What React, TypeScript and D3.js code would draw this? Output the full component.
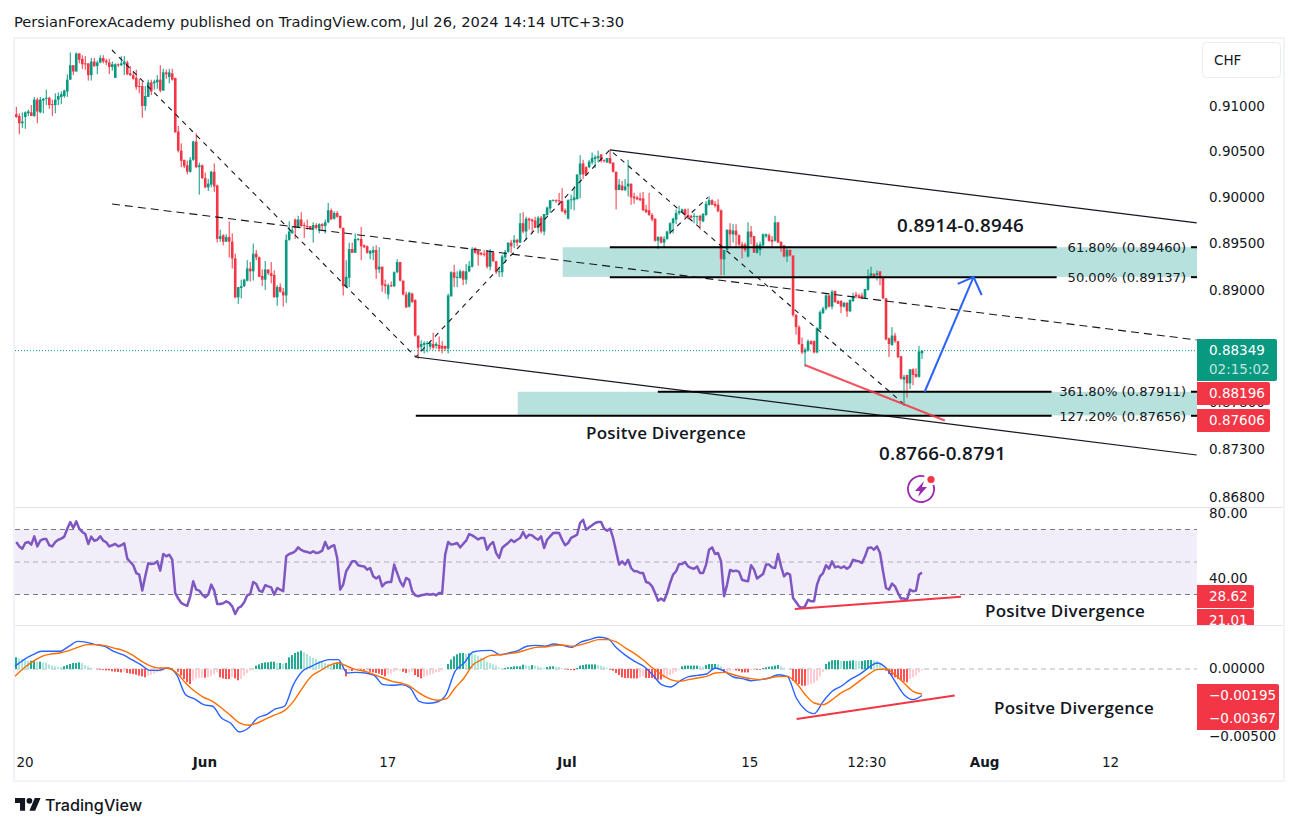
import React from 'react';
import * as d3 from 'd3';

// USDCHF 4h candles, ten per line
const opens = [
  .9091, .9089, .9081, .9088, .9092, .9093, .9089, .9107, .9093, .9106,
  .9108, .9109, .9102, .9101, .9107, .9110, .9111, .9116, .9129, .9145,
  .9138, .9158, .9152, .9147, .9147, .9134, .9149, .9144, .9148, .9153,
  .9150, .9148, .9143, .9131, .9146, .9145, .9146, .9148, .9136, .9134,
  .9131, .9122, .9122, .9100, .9110, .9126, .9125, .9126, .9129, .9117,
  .9137, .9132, .9136, .9131, .9072, .9051, .9041, .9035, .9028, .9041,
  .9061, .9033, .9035, .9021, .9011, .9014, .9028, .9013, .8955, .8959,
  .8952, .8957, .8952, .8934, .8892, .8902, .8904, .8910, .8923, .8920,
  .8939, .8935, .8915, .8911, .8922, .8918, .8916, .8892, .8903, .8898,
  .8894, .8954, .8961, .8976, .8967, .8976, .8970, .8969, .8969, .8966,
  .8970, .8966, .8971, .8969, .8973, .8986, .8977, .8983, .8980, .8967,
  .8903, .8913, .8944, .8940, .8954, .8955, .8948, .8947, .8939, .8940,
  .8943, .8922, .8925, .8906, .8895, .8905, .8904, .8919, .8930, .8910,
  .8895, .8882, .8896, .8889, .8851, .8839, .8841, .8842, .8839, .8842,
  .8840, .8841, .8840, .8840, .8837, .8893, .8919, .8913, .8913, .8920,
  .8911, .8920, .8925, .8945, .8942, .8940, .8939, .8941, .8925, .8940,
  .8931, .8919, .8919, .8935, .8941, .8951, .8951, .8954, .8951, .8972,
  .8963, .8977, .8976, .8975, .8967, .8978, .8963, .8981, .8988, .8996,
  .8997, .8997, .8996, .8986, .8977, .8997, .8997, .8998, .9025, .9037,
  .9033, .9033, .9038, .9042, .9043, .9047, .9041, .9038, .9043, .9038,
  .9028, .9008, .9013, .9008, .9012, .9015, .9001, .9000, .8999, .8999,
  .8987, .8986, .8981, .8977, .8953, .8957, .8951, .8955, .8963, .8972,
  .8976, .8983, .8983, .8987, .8981, .8980, .8979, .8979, .8980, .8974,
  .8981, .8992, .8997, .8993, .8992, .8986, .8933, .8943, .8965, .8960,
  .8964, .8959, .8949, .8949, .8936, .8963, .8958, .8940, .8943, .8948,
  .8958, .8959, .8954, .8953, .8973, .8952, .8948, .8936, .8943, .8937,
  .8873, .8860, .8842, .8833, .8835, .8845, .8845, .8833, .8858, .8875,
  .8880, .8894, .8882, .8899, .8888, .8888, .8882, .8886, .8877, .8888,
  .8895, .8894, .8894, .8891, .8900, .8914, .8917, .8916, .8920, .8914,
  .8891, .8848, .8841, .8851, .8845, .8829, .8804, .8809, .8800, .8815,
  .8810, .8807, .8832,
];
const highs = [
  .9099, .9092, .9093, .9094, .9096, .9101, .9110, .9109, .9110, .9109,
  .9118, .9110, .9107, .9114, .9115, .9116, .9118, .9135, .9159, .9145,
  .9159, .9158, .9156, .9155, .9147, .9153, .9153, .9150, .9156, .9156,
  .9152, .9152, .9149, .9147, .9147, .9155, .9155, .9150, .9144, .9138,
  .9140, .9130, .9127, .9122, .9129, .9129, .9129, .9134, .9145, .9141,
  .9140, .9141, .9141, .9131, .9078, .9059, .9041, .9040, .9044, .9062,
  .9070, .9038, .9036, .9027, .9020, .9029, .9037, .9014, .8965, .8960,
  .8960, .8974, .8961, .8939, .8903, .8911, .8912, .8932, .8930, .8950,
  .8943, .8936, .8922, .8931, .8922, .8930, .8921, .8905, .8907, .8902,
  .8960, .8974, .8969, .8977, .8980, .8984, .8973, .8976, .8969, .8973,
  .8972, .8972, .8972, .8976, .8994, .8988, .8985, .8985, .8980, .8967,
  .8932, .8951, .8951, .8961, .8956, .8968, .8949, .8948, .8943, .8947,
  .8948, .8946, .8925, .8911, .8907, .8909, .8920, .8933, .8930, .8910,
  .8898, .8898, .8897, .8890, .8851, .8846, .8845, .8845, .8845, .8854,
  .8844, .8850, .8845, .8840, .8896, .8920, .8927, .8920, .8922, .8921,
  .8928, .8931, .8946, .8946, .8944, .8941, .8943, .8943, .8944, .8941,
  .8931, .8925, .8938, .8943, .8951, .8954, .8959, .8955, .8983, .8984,
  .8979, .8978, .8977, .8979, .8980, .8980, .8982, .8990, .8997, .8998,
  .8998, .9005, .9010, .8988, .8998, .9003, .9012, .9025, .9046, .9041,
  .9034, .9041, .9049, .9046, .9051, .9047, .9041, .9043, .9052, .9038,
  .9028, .9020, .9018, .9020, .9041, .9015, .9005, .9002, .9005, .9006,
  .8992, .9005, .8983, .8977, .8958, .8958, .8958, .8964, .8973, .8978,
  .8987, .8991, .8988, .8988, .8988, .8981, .8983, .8980, .8981, .8983,
  .8996, .9001, .8998, .8996, .8998, .8987, .8943, .8965, .8972, .8971,
  .8971, .8960, .8952, .8951, .8973, .8969, .8958, .8951, .8952, .8961,
  .8961, .8961, .8958, .8980, .8973, .8952, .8948, .8945, .8944, .8937,
  .8874, .8862, .8849, .8838, .8847, .8846, .8846, .8860, .8878, .8882,
  .8896, .8895, .8900, .8899, .8889, .8889, .8887, .8887, .8890, .8897,
  .8898, .8896, .8897, .8901, .8922, .8925, .8918, .8921, .8920, .8914,
  .8891, .8849, .8860, .8854, .8845, .8829, .8809, .8809, .8815, .8816,
  .8816, .8840, .8835,
];
const lows = [
  .9087, .9069, .9076, .9075, .9089, .9089, .9088, .9081, .9092, .9092,
  .9101, .9097, .9089, .9092, .9101, .9102, .9109, .9110, .9129, .9134,
  .9138, .9147, .9141, .9140, .9128, .9128, .9143, .9135, .9147, .9147,
  .9145, .9135, .9139, .9131, .9143, .9144, .9134, .9134, .9133, .9129,
  .9118, .9114, .9087, .9095, .9110, .9112, .9118, .9119, .9115, .9117,
  .9130, .9125, .9128, .9071, .9049, .9033, .9032, .9025, .9027, .9040,
  .9032, .9003, .9020, .9010, .9007, .9011, .9006, .8951, .8952, .8948,
  .8952, .8935, .8923, .8891, .8885, .8891, .8903, .8909, .8909, .8910,
  .8932, .8914, .8904, .8900, .8916, .8907, .8892, .8883, .8897, .8882,
  .8886, .8953, .8961, .8955, .8967, .8968, .8956, .8965, .8965, .8951,
  .8965, .8961, .8965, .8961, .8972, .8976, .8976, .8978, .8966, .8894,
  .8903, .8903, .8940, .8940, .8953, .8932, .8945, .8939, .8933, .8932,
  .8912, .8918, .8898, .8896, .8890, .8903, .8903, .8918, .8909, .8894,
  .8881, .8881, .8886, .8850, .8826, .8834, .8832, .8833, .8836, .8836,
  .8837, .8834, .8832, .8835, .8832, .8893, .8903, .8903, .8912, .8905,
  .8906, .8919, .8924, .8939, .8926, .8937, .8936, .8923, .8921, .8930,
  .8917, .8914, .8914, .8929, .8940, .8940, .8945, .8947, .8951, .8961,
  .8954, .8965, .8961, .8967, .8961, .8961, .8959, .8980, .8983, .8996,
  .8994, .8992, .8984, .8981, .8976, .8987, .8986, .8998, .8999, .9020,
  .9024, .9032, .9036, .9032, .9038, .9038, .9038, .9038, .9037, .9027,
  .8987, .9008, .9007, .9007, .9001, .8992, .8993, .8997, .8996, .8985,
  .8983, .8980, .8974, .8952, .8944, .8950, .8946, .8954, .8960, .8961,
  .8971, .8981, .8983, .8978, .8976, .8977, .8972, .8971, .8965, .8973,
  .8980, .8991, .8992, .8989, .8984, .8916, .8916, .8943, .8947, .8951,
  .8947, .8947, .8934, .8941, .8935, .8949, .8940, .8939, .8937, .8947,
  .8956, .8952, .8947, .8952, .8951, .8941, .8935, .8930, .8936, .8871,
  .8852, .8841, .8831, .8818, .8834, .8841, .8832, .8832, .8857, .8874,
  .8878, .8881, .8879, .8886, .8885, .8875, .8881, .8871, .8876, .8887,
  .8891, .8891, .8890, .8890, .8899, .8913, .8913, .8910, .8905, .8890,
  .8846, .8828, .8840, .8843, .8827, .8804, .8776, .8785, .8794, .8798,
  .8806, .8806, .8826,
];
const closes = [
  .9088, .9081, .9083, .9093, .9094, .9089, .9107, .9094, .9107, .9108,
  .9109, .9101, .9101, .9107, .9111, .9113, .9117, .9129, .9145, .9138,
  .9158, .9151, .9146, .9146, .9134, .9149, .9144, .9148, .9153, .9149,
  .9148, .9143, .9146, .9146, .9145, .9147, .9149, .9135, .9134, .9130,
  .9121, .9121, .9100, .9111, .9126, .9116, .9127, .9129, .9117, .9137,
  .9135, .9137, .9129, .9071, .9051, .9040, .9034, .9028, .9041, .9061,
  .9033, .9035, .9021, .9011, .9015, .9028, .9012, .8955, .8958, .8952,
  .8957, .8952, .8934, .8892, .8903, .8904, .8911, .8923, .8920, .8939,
  .8935, .8914, .8911, .8922, .8918, .8915, .8892, .8903, .8898, .8894,
  .8954, .8963, .8964, .8967, .8976, .8969, .8969, .8968, .8966, .8970,
  .8967, .8971, .8969, .8973, .8986, .8976, .8983, .8979, .8967, .8904,
  .8914, .8944, .8940, .8955, .8955, .8947, .8946, .8940, .8942, .8943,
  .8922, .8925, .8905, .8904, .8905, .8904, .8919, .8930, .8910, .8895,
  .8881, .8897, .8887, .8851, .8838, .8842, .8843, .8843, .8843, .8838,
  .8842, .8837, .8837, .8837, .8894, .8919, .8913, .8914, .8920, .8911,
  .8920, .8926, .8944, .8940, .8938, .8938, .8938, .8925, .8941, .8931,
  .8919, .8920, .8936, .8941, .8951, .8947, .8954, .8951, .8972, .8963,
  .8977, .8975, .8974, .8967, .8978, .8963, .8982, .8989, .8997, .8997,
  .8996, .8996, .8985, .8983, .8997, .8998, .9000, .9025, .9037, .9025,
  .9025, .9039, .9043, .9044, .9045, .9040, .9040, .9043, .9037, .9028,
  .9008, .9014, .9008, .9012, .9015, .9000, .8999, .8998, .8997, .8986,
  .8984, .8981, .8976, .8953, .8957, .8951, .8955, .8963, .8972, .8977,
  .8983, .8985, .8987, .8981, .8978, .8978, .8980, .8980, .8975, .8982,
  .8993, .8997, .8992, .8991, .8985, .8933, .8943, .8965, .8960, .8964,
  .8959, .8949, .8945, .8943, .8963, .8957, .8940, .8948, .8949, .8960,
  .8960, .8953, .8952, .8973, .8951, .8947, .8936, .8943, .8937, .8873,
  .8860, .8842, .8833, .8836, .8845, .8842, .8833, .8859, .8876, .8880,
  .8894, .8882, .8898, .8887, .8885, .8882, .8886, .8877, .8889, .8893,
  .8893, .8891, .8891, .8901, .8914, .8918, .8914, .8918, .8914, .8891,
  .8847, .8842, .8851, .8845, .8828, .8805, .8807, .8800, .8815, .8809,
  .8807, .8834, .88349,
];

// RSI(14) close values, one per candle
const rsiValues = [
  62.3, 59.6, 58.2, 61.7, 62.3, 60.7, 65.8, 59.6, 63.1, 64.1, 64.1, 60.3, 59.6, 62.3, 63.7, 64.4, 65.6, 70.5, 74.6, 70.9,
  75, 70.5, 68.5, 67.2, 61.1, 65.6, 63.1, 63.7, 65.8, 63.1, 62.1, 59.6, 60.3, 61.1, 59.6, 60.3, 61.5, 52.1, 50, 48,
  43.2, 42.2, 32.4, 41.2, 49.2, 48.8, 49, 50.4, 44.7, 54.9, 53.5, 54.5, 51.4, 30.9, 27.5, 24.8, 23.8, 23.1, 28.9, 38.1,
  33, 32.4, 29.9, 28.3, 29.9, 36.1, 32.4, 24.2, 24.2, 24.6, 25.8, 24.8, 22.7, 18, 21.7, 22.7, 25.2, 29.5, 30.3, 37.7,
  36.5, 32.4, 31.6, 35.7, 35, 34.4, 29.9, 34, 33, 32, 53.5, 54.9, 55.5, 56.6, 59, 57.4, 56.6, 56.2, 55.5, 56.6,
  55.5, 55.9, 57, 62.3, 58.2, 59.6, 60.3, 52.5, 33, 36.1, 44.3, 47.3, 50.4, 50.4, 48, 47.5, 47.3, 45.3, 46.3, 41.2,
  39.8, 41.2, 35, 37.1, 37.7, 37.7, 48.4, 43.2, 38.1, 35, 40.2, 39.1, 32, 29.5, 28.9, 29.5, 29.9, 30.3, 29.9, 30.3,
  29.5, 30.9, 30.9, 54.5, 62.3, 60.7, 61.1, 61.7, 59, 61.1, 63.1, 67.2, 66.4, 65.2, 63.9,
  64.8, 64.8, 57.6, 60.7, 62.3, 55.5, 52.5, 58.6, 60.3, 61.7, 63.7, 62.3, 63.7, 64.8, 68.5, 64.8, 66.8, 66.4, 64.8, 63.7,
  65.8, 58.6, 63.7, 65.8, 67.8, 68, 67.8, 63.7, 60.3, 61.7, 64.8, 65.8, 66.8, 74, 76, 69.9, 71.3, 72.6, 74, 74.6,
  74.6, 70.5, 69.3, 70.5, 64.8, 56.6, 48.4, 50.4, 48.4, 51.4, 46.3, 44.3, 44.3, 43.2, 43.2, 37.7, 37.1, 35, 30.9, 26.2,
  27.5, 26.2, 30.9, 37.1, 42.2, 44.3, 48.8, 48.8, 50, 47.3, 46.3, 45.9, 47.3, 43.2, 43.2, 48.4, 57.6, 59, 54.9, 55.5,
  50.4, 28.9, 36.1, 45.1, 44.3, 44.7, 43.9, 39.1, 38.5, 38.1, 48, 45.3, 39.8, 41.2, 42.6, 48.4, 48.4, 46.7, 46.3, 54.9,
  47.3, 41.2, 43.2, 42.2, 27.9, 25.4, 22.7, 21.7, 22.7, 26.8, 25.8, 25.8, 36.1, 41.2, 43.2, 48, 45.9, 50.4, 46.7, 47.3,
  46.3, 47.3, 45.9, 47.3, 51.4, 50.8, 50.4, 49.4, 53.5, 58.6, 59, 57.6, 59.6, 55.5, 44.3, 34, 33, 36.7, 35, 30.9,
  27.5, 27.5, 26.8, 33, 32, 32.4, 42.2, 43.6,
];

// MACD and signal, read every third candle
const macdValues = [
  .0002, .00069, .00105, .0013, .0013, .0013, .00167, .00203, .00196, .00179, .00167, .0013, .00105, .00069, .00032, -.0001, -.0001, .00007,
  -.00042, -.00189, -.0022, -.00262, -.00274, -.0036, -.00397, -.00463, -.00434, -.0036, -.00336, -.00294, -.00274, -.00115, -.00017, .0002,
  .00051, .00069, .00069, -.00029, -.00025, -.00029, -.00047, -.00115, -.0012, -.00115, -.0014, -.00238, -.00252, -.00243, -.00189, -.00017, .00044, .00125,
  .00135, .00137, .00105, .00118, .00135, .00167, .00174, .00167, .00184, .00174, .00159, .00198, .00216, .00233, .00223, .00154, .001, .00056,
  .0002, -.00042, -.00115, -.00132, -.00091, -.00056, -.00047, -.00037, .00007, -.00017, -.00059, -.00071, -.00086, -.00078, -.00066, -.00042, -.00054, -.00213,
  -.00299, -.00328, -.00238, -.00164, -.00127, -.00078, -.00042, .00007, .00044, .00007, -.00091, -.00189, -.00225, -.00195,
];
const signalValues = [
  -.00054, .00007, .00056, .00093, .0011, .00118, .00135, .00159, .00179, .00179, .00172, .00154, .00137, .00105, .00061, .00025, .00007, .00007,
  -.00029, -.00103, -.00164, -.00208, -.00238, -.00287, -.00341, -.00397, -.00414, -.00397, -.00365, -.00336, -.00306, -.00238, -.0014, -.00054,
  -.00012, .00027, .00044, .0002, -.00005, -.00017, -.00042, -.00066, -.00091, -.00103, -.00127, -.00176, -.00213, -.0023, -.0022, -.0014, -.00066, .00032,
  .00069, .001, .00105, .00113, .00123, .00142, .00159, .00162, .00172, .00176, .00167, .00179, .00198, .00216, .00216, .00198, .00154, .00113,
  .00064, .00007, -.00042, -.00078, -.00091, -.00078, -.00066, -.00054, -.00029, -.00025, -.00042, -.00059, -.00071, -.00078, -.00066, -.00056, -.00054, -.00103,
  -.00189, -.0025, -.00262, -.00225, -.00176, -.0014, -.00091, -.00042, -.00005, 0, -.00042, -.00103, -.00164, -.00184,
];
const histValues = [
  .00086, .00078, .00074, .00066, .00061, .00061, .00061, .00054, .00054, .00049, .00044, .00032, .00025, .0002, .00017, .00015, .0002, .00029, .00037, .00044,
  .00044, .00049, .00044, .00029, .0002, .0001, .00002, -.00002, -.00005, -.00007, -.0001, -.0001, -.00017, -.0002, -.00022, -.00025, -.0002, -.00029, -.00034, -.00037,
  -.00042, -.00049, -.00054, -.00061, -.00049, -.00042, -.00034, -.00025, -.0002, -.00015, 0, .00002, .00005, 0, -.0002, -.00049, -.00074, -.00098, -.0011, -.00086,
  -.00069, -.00066, -.00064, -.00064, -.00061, -.00054, -.00039, -.00025, -.00061, -.00069, -.00074, -.00074, -.00061, -.00069, -.00083, -.00074, -.00049, -.00029, -.00012, -.00005,
  .00025, .00034, .00044, .00049, .00049, .00054, .00054, .00044, .00044, .00039, .00044, .00086, .00103, .00118, .00127, .00135, .00123, .0011, .00093, .00081,
  .00074, .00061, .00054, .00044, .00037, .00029, .00034, .00049, .00054, .00025, -.00054, -.00012, -.00015, -.00007, -.00005, -.00005, -.00012, -.0001, -.0002, -.00025,
  -.00029, -.00034, -.00044, -.00054, -.00039, -.00034, -.0002, -.00012, -.0001, -.0002, -.00029, -.00025, -.0002, -.00044, -.00059, -.00069, -.00059, -.00049, -.00042, -.00034,
  -.00025, -.0002, -.0001, -.00002, .00037, .00069, .00093, .00108, .00118, .00118, .0011, .00115, .0011, .00105, .00098,
  .00083, .00074, .00054, .00044, .00034, .00025, .0001, .00002, .00007, .00012, .00015, .0002, .0002, .0002, .00032, .00027, .00025, .00029, .00025, .0002,
  .00012, .0001, .00015, .0002, .0002, .00017, .00015, .00007, -.00002, -.00005, -.00007, -.0001, .00007, .00025, .00029, .00034, .00034, .00034, .00034, .00029,
  .00025, .00017, .00007, -.00005, -.00012, -.00029, -.00044, -.00061, -.00066, -.00066, -.00069, -.00069, -.00069, -.00061, -.00054, -.00066, -.00066, -.00066, -.00074, -.00078,
  -.00078, -.00069, -.00054, -.00044, -.00034, -.0002, -.00007, .0002, .00025, .00025, .00025, .00025, .00025, .0002, .00017, .00029, .00037, .00037, .00037, .00034,
  .0002, -.00029, -.00025, -.00015, -.0001, -.0001, -.00015, -.00025, -.00025, -.00025, -.00007, -.00005, -.00005, -.00007, .00007, .00012, .00017, .0002, .00025, .00029,
  .0002, .0001, .00002, -.00002, -.00086, -.00098, -.0011, -.00123, -.00123, -.00118, -.0011, -.00103, -.00086, -.00054, -.0002, .00037, .00054, .00064, .00066, .00066,
  .00059, .00059, .00059, .00061, .00064, .00061, .00059, .00059, .00064, .00066, .00066, .00064, .00061, .00044, .0001, -.00012, -.00037, -.00049, -.00061, -.00074,
  -.00081, -.00093, -.00098, -.00074, -.00061, -.00049, -.00025, -.00012,
];

const priceTicks = [0.91, 0.905, 0.9, 0.895, 0.89, 0.878, 0.873, 0.868];
const rsiTicks = [80, 40];
const rsiBands = [70, 50, 30];
const macdTicks = [0, -0.005];
const timeLabels = ['20', 'Jun', '17', 'Jul', '15', '12:30', 'Aug', '12'];
const timeBars = [2.9, 62.9, 123.9, 183.6, 244.6, 283.6, 322.9, 364.9];
const boldTimeLabels = ['Jun', 'Jul', 'Aug'];

// drawings, [bar, price]
const channelUpper = [[197.9, 0.90519], [393.6, 0.89723]];
const channelLower = [[133.2, 0.88281], [393.6, 0.87242]];
const midLine = [[31.9, 0.89929], [393.6, 0.88463]];
const zigzag = [[31.9, 0.91618], [133.2, 0.88281], [197.9, 0.90519], [295.6, 0.87791]];
const innerLeg = [[217.9, 0.89614], [230.6, 0.9]];
const priceDivergence = [[262.9, 0.88196], [309.6, 0.87606]];
const arrowShaft = [[302.9, 0.87911], [319.2, 0.89139]];
const arrowHead = [[313.9, 0.89064], [319.2, 0.89139], [321.9, 0.88945]];
const rsiDivergence = [[259.6, 21.01], [315, 28.62]];
const macdDivergence = [[260.2, -0.00367], [312.9, -0.00195]];

const fibLabels = ['61.80% (0.89460)', '50.00% (0.89137)', '361.80% (0.87911)', '127.20% (0.87656)'];
const fibPrices = [0.8946, 0.89137, 0.87911, 0.87656];
const fibStartBars = [197.9, 197.9, 213.9, 133.2];
const fibStopBars = [346.9, 346.9, 345.2, 345.2];
const zones = [
  { top: 0.8946, bottom: 0.8914, startBar: 182.2 },
  { top: 0.87911, bottom: 0.8766, startBar: 167.2 },
];

const W = 1298;
const H = 829;
const plotLeft = 15;
const plotRight = 1197;
const UI_FONT = '"DejaVu Sans", sans-serif';
const GREEN = '#089981';
const RED = '#f23645';
const INK = '#131722';

const barX = d3.scaleLinear().domain([0, 302]).range([16.3, 922]);
const priceY = d3.scaleLog().domain([0.868, 0.91]).range([497, 106]);
const rsiY = d3.scaleLinear().domain([30, 70]).range([594.5, 529.5]);
const macdY = d3.scaleLinear().domain([0, -0.005]).range([669, 737]);
const rsiX = d3.scaleLinear().domain([0, rsiValues.length - 1]).range([16.3, 922]);
const macdX = d3.scaleLinear().domain([0, macdValues.length - 1]).range([15, 922]);
const histX = d3.scaleLinear().domain([0, histValues.length - 1]).range([16, 922]);

const histColor = (i: number) => {
  const v = histValues[i];
  const prev = i > 0 ? histValues[i - 1] : v;
  if (v >= 0) return v >= prev ? '#22ab94' : '#ace5dc';
  return v <= prev ? '#ff5252' : '#ffcdd2';
};

const priceLine = d3.line<number[]>().x(d => barX(d[0])).y(d => priceY(d[1]));
const rsiLineOf = d3.line<number[]>().x(d => barX(d[0])).y(d => rsiY(d[1]));
const macdLineOf = d3.line<number[]>().x(d => barX(d[0])).y(d => macdY(d[1]));
const rsiPath = d3.line<number>().x((_, i) => rsiX(i)).y(d => rsiY(d))(rsiValues) || undefined;
const rsiOversold = d3.area<number>().x((_, i) => rsiX(i)).y0(rsiY(30)).y1(d => rsiY(d))(rsiValues) || undefined;
const macdLine = d3.line<number>().x((_, i) => macdX(i)).y(d => macdY(d)).curve(d3.curveMonotoneX);
const boltRing = d3.arc()({ innerRadius: 12.2, outerRadius: 14, startAngle: 1.25, endAngle: 0.25 + Math.PI * 2 }) || undefined;

const AxisText = ({ y, children }: { y: number; children: React.ReactNode }) => (
  <text x={1209} y={y} dy="0.36em" fontSize={13.5} fill={INK}>{children}</text>
);

const PriceBox = ({ x0, x1, y0, y1, color }: { x0: number; x1: number; y0: number; y1: number; color: string }) => (
  <path d={`M${x0},${y0}H${x1 - 2}q2,0 2,2V${y1 - 2}q0,2 -2,2H${x0}Z`} fill={color} />
);

const Note = ({ x, y, children, size = 17 }: { x: number; y: number; children: React.ReactNode; size?: number }) => (
  <text x={x} y={y} fontSize={size} fontWeight={600} fill={INK} fontFamily='"Open Sans", sans-serif' letterSpacing="0.25">{children}</text>
);

export default function App() {
  const candleW = 2.6;
  return (
    <svg width={W} height={H} fontFamily={UI_FONT} style={{ position: 'absolute', left: 0, top: 0, background: '#fff' }}>
      <defs>
        <clipPath id="rsiLow"><rect x={plotLeft} y={rsiY(30)} width={plotRight - plotLeft} height={40} /></clipPath>
        <clipPath id="rsiPane"><rect x={plotRight} y={508} width={100} height={117} /></clipPath>
        <linearGradient id="lowFade" x1="0" y1="0" x2="0" y2="1">
          <stop offset="0" stopColor="#f23645" stopOpacity={0.18} />
          <stop offset="0.4" stopColor="#f23645" stopOpacity={0} />
        </linearGradient>
      </defs>

      <text x={14} y={27} fontSize={14.65} fill={INK}>PersianForexAcademy published on TradingView.com, Jul 26, 2024 14:14 UTC+3:30</text>

      {/* frame */}
      <rect x={14} y={38} width={1270} height={743} fill="none" stroke="#f0f3fa" strokeWidth={2} />
      <line x1={15} x2={1283} y1={507.5} y2={507.5} stroke="#e0e3eb" />
      <line x1={15} x2={1283} y1={625.5} y2={625.5} stroke="#e0e3eb" />

      {/* price pane */}
      <line x1={plotLeft} x2={plotRight} y1={priceY(0.88349)} y2={priceY(0.88349)} stroke={GREEN} strokeDasharray="1 2" />
      {zones.map((z, i) => (
        <rect key={i} x={barX(z.startBar)} y={priceY(z.top)} width={plotRight - barX(z.startBar)} height={priceY(z.bottom) - priceY(z.top)} fill="#b7e1dc" />
      ))}
      {opens.map((o, i) => {
        const color = closes[i] >= o ? GREEN : RED;
        const x = barX(i);
        const top = priceY(Math.max(o, closes[i]));
        const bottom = priceY(Math.min(o, closes[i]));
        return (
          <g key={i}>
            <line x1={x} x2={x} y1={priceY(highs[i])} y2={priceY(lows[i])} stroke={color} strokeWidth={1} />
            <rect x={x - candleW / 2} y={top} width={candleW} height={Math.max(bottom - top, 1)} fill={color} />
          </g>
        );
      })}
      <path d={priceLine(channelUpper) || undefined} fill="none" stroke="#131722" strokeWidth={1.2} />
      <path d={priceLine(channelLower) || undefined} fill="none" stroke="#131722" strokeWidth={1.2} />
      <path d={priceLine(midLine) || undefined} fill="none" stroke="#131722" strokeWidth={1.1} strokeDasharray="8 5" />
      <path d={priceLine(zigzag) || undefined} fill="none" stroke="#131722" strokeWidth={1.1} strokeDasharray="5 5" />
      <path d={priceLine(innerLeg) || undefined} fill="none" stroke="#131722" strokeWidth={1.1} strokeDasharray="5 5" />
      {fibPrices.map((p, i) => (
        <g key={i}>
          <line x1={barX(fibStartBars[i])} x2={barX(fibStopBars[i])} y1={priceY(p)} y2={priceY(p)} stroke="#000" strokeWidth={2} />
          <line x1={1191} x2={plotRight} y1={priceY(p)} y2={priceY(p)} stroke="#000" strokeWidth={2} />
          <text x={1186} y={priceY(p)} dy="0.36em" textAnchor="end" fontSize={13.1} fill={INK}>{fibLabels[i]}</text>
        </g>
      ))}
      <path d={priceLine(priceDivergence) || undefined} fill="none" stroke={RED} strokeWidth={2} opacity={0.85} />
      <path d={priceLine(arrowShaft) || undefined} fill="none" stroke="#2962ff" strokeWidth={2} />
      <path d={priceLine(arrowHead) || undefined} fill="none" stroke="#2962ff" strokeWidth={2} />

      <Note x={897} y={232} size={18.8}>0.8914-0.8946</Note>
      <Note x={879} y={460} size={18.8}>0.8766-0.8791</Note>
      <Note x={586} y={439}>Positve Divergence</Note>

      {/* purple bolt */}
      <g transform="translate(921,489)" fill="#9c27b0">
        <path d={boltRing} />
        <path d="M3,-8 L-6,2 L-1,2 L-3,8 L6,-2 L1,-2 Z" />
      </g>
      <circle cx={931} cy={479.5} r={3.6} fill={RED} />

      {/* RSI pane */}
      <rect x={plotLeft} y={rsiY(70)} width={plotRight - plotLeft} height={rsiY(30) - rsiY(70)} fill="#7e57c2" fillOpacity={0.1} />
      <path d={rsiOversold} fill="url(#lowFade)" clipPath="url(#rsiLow)" />
      {rsiBands.map(v => (
        <line key={v} x1={plotLeft} x2={plotRight} y1={rsiY(v)} y2={rsiY(v)} stroke="#787b86" strokeWidth={1} strokeDasharray="5 4" opacity={v === 50 ? 0.55 : 1} />
      ))}
      <path d={rsiPath} fill="none" stroke="#7e57c2" strokeWidth={2.5} strokeLinejoin="round" />
      <path d={rsiLineOf(rsiDivergence) || undefined} fill="none" stroke={RED} strokeWidth={2} />
      <Note x={985} y={617}>Positve Divergence</Note>

      {/* MACD pane */}
      <line x1={plotLeft} x2={plotRight} y1={macdY(0)} y2={macdY(0)} stroke="#787b86" strokeDasharray="5 4" opacity={0.55} />
      {histValues.map((v, i) => (
        <rect key={i} x={histX(i) - 1} y={Math.min(macdY(v), macdY(0))} width={2} height={Math.abs(macdY(v) - macdY(0))} fill={histColor(i)} />
      ))}
      <path d={macdLine(macdValues) || undefined} fill="none" stroke="#2962ff" strokeWidth={1.4} />
      <path d={macdLine(signalValues) || undefined} fill="none" stroke="#ff6d00" strokeWidth={1.4} />
      <path d={macdLineOf(macdDivergence) || undefined} fill="none" stroke={RED} strokeWidth={2} />
      <Note x={994} y={714}>Positve Divergence</Note>

      {/* right axis */}
      <rect x={1202.5} y={42.5} width={78} height={35} rx={4} fill="#fff" stroke="#e9ecf2" />
      <text x={1214} y={60} dy="0.36em" fontSize={13.5} fill={INK}>CHF</text>
      {priceTicks.map(t => <AxisText key={t} y={priceY(t)}>{d3.format('.5f')(t)}</AxisText>)}
      {rsiTicks.map(t => <AxisText key={t} y={rsiY(t)}>{d3.format('.2f')(t)}</AxisText>)}
      {macdTicks.map(t => <AxisText key={t} y={macdY(t) - 1}>{d3.format('.5f')(t)}</AxisText>)}

      <PriceBox x0={plotRight} x1={1277} y0={339} y1={381} color={GREEN} />
      <text x={1209} y={350} dy="0.36em" fontSize={13.5} fill="#fff">0.88349</text>
      <text x={1209} y={369.5} dy="0.36em" fontSize={13.5} fill="#fff" fillOpacity={0.75}>02:15:02</text>
      <PriceBox x0={plotRight} x1={1270} y0={382} y1={405} color={RED} />
      <text x={1209} y={393.5} dy="0.36em" fontSize={13.5} fill="#fff">0.88196</text>
      <PriceBox x0={plotRight} x1={1270} y0={409} y1={432} color={RED} />
      <text x={1209} y={420.5} dy="0.36em" fontSize={13.5} fill="#fff">0.87606</text>

      <PriceBox x0={plotRight} x1={1254} y0={585} y1={608} color={RED} />
      <text x={1209} y={596.5} dy="0.36em" fontSize={13.5} fill="#fff">28.62</text>
      <g clipPath="url(#rsiPane)">
        <PriceBox x0={plotRight} x1={1254} y0={609} y1={632} color={RED} />
        <text x={1209} y={620.5} dy="0.36em" fontSize={13.5} fill="#fff">21.01</text>
      </g>

      <PriceBox x0={plotRight} x1={1279} y0={684} y1={730} color={RED} />
      <text x={1209} y={695.5} dy="0.36em" fontSize={13.5} fill="#fff">−0.00195</text>
      <text x={1209} y={718.5} dy="0.36em" fontSize={13.5} fill="#fff">−0.00367</text>

      {/* time axis */}
      {timeLabels.map((t, i) => (
        <text key={t} x={barX(timeBars[i])} y={762} dy="0.36em" textAnchor="middle" fontSize={13.5} fill={INK} fontWeight={boldTimeLabels.includes(t) ? 700 : 400}>{t}</text>
      ))}

      {/* logo */}
      <g transform="translate(15,795) scale(0.72)" fill={INK}>
        <path d="M14 22H7V11H0V4h14v18zM28 22h-8l7.5-18h8L28 22z" />
        <circle cx={20} cy={8} r={4} />
      </g>
      <text x={45} y={811} fontFamily="Inter, sans-serif" fontSize={16.2} fontWeight={500} fill={INK}>TradingView</text>
    </svg>
  );
}
